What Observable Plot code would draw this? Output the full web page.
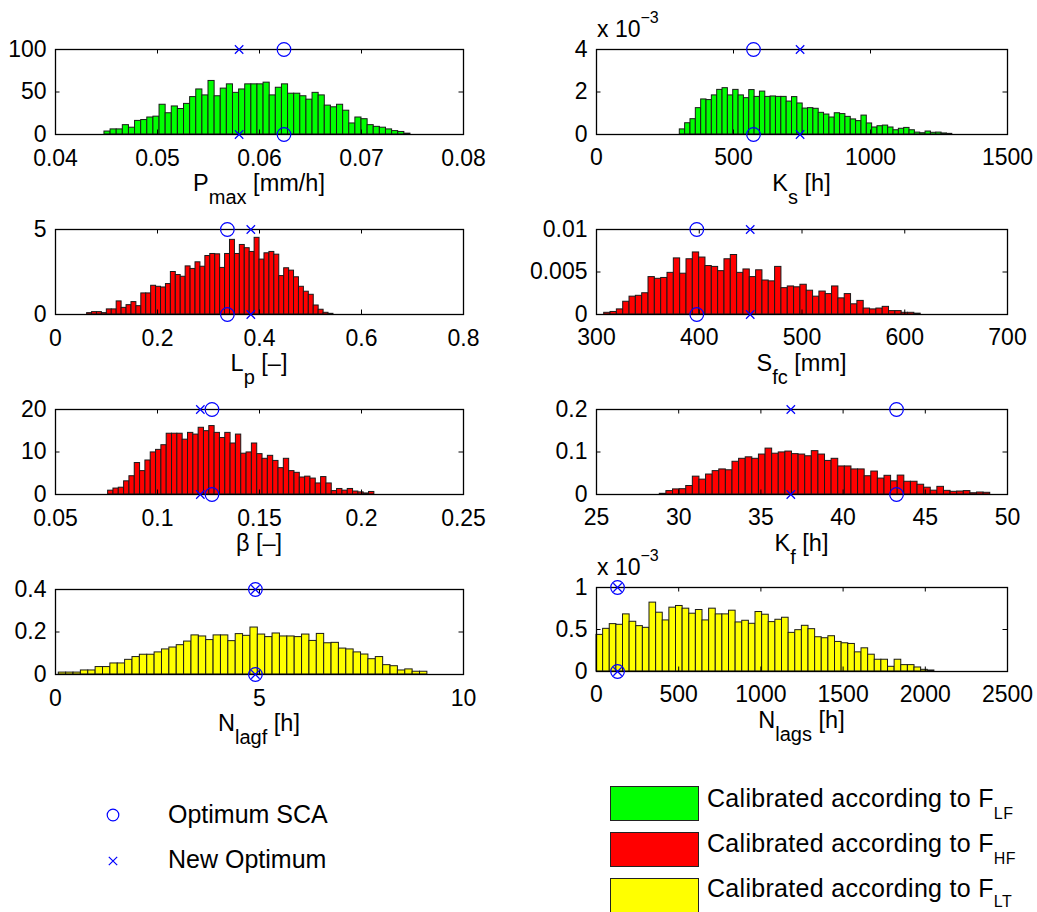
<!DOCTYPE html>
<html>
<head>
<meta charset="utf-8">
<script src="https://cdn.jsdelivr.net/npm/d3@7"></script>
<script src="https://cdn.jsdelivr.net/npm/@observablehq/plot@0.6"></script>
<style>
  html, body { margin: 0; padding: 0; background: #fff; }
  body { font-family: "Liberation Sans", Arial, Helvetica, sans-serif; color: #000; }
  #fig { position: relative; width: 1037px; height: 912px; overflow: hidden; background: #fff; }
  .lab { position: absolute; font-size: 23.5px; line-height: 24px; white-space: nowrap; transform: translateX(-50%); }
  .lab sub { font-size: 20px; vertical-align: -13px; line-height: 0; }
  .exp { position: absolute; font-size: 23px; line-height: 22px; white-space: nowrap; }
  .exp sup { font-size: 16px; vertical-align: 14px; line-height: 0; }
  .leg { position: absolute; font-size: 25px; line-height: 25px; white-space: nowrap; }
  .leg.s { letter-spacing: 0.3px; }
  .leg sub { font-size: 16px; vertical-align: -12px; line-height: 0; letter-spacing: 0.5px; }
  .leg sub.last { vertical-align: -10px; }
  .sw { position: absolute; width: 89px; height: 35px; border: 1px solid #222; box-sizing: border-box; }
</style>
</head>
<body>
<div id="fig"></div>
<script>
// ---------------- DATA ----------------
const seriesColors = ["#00ff00", "#ff0000", "#ffff00"];
const seriesLabels = ["Calibrated according to F", "Calibrated according to F", "Calibrated according to F"];
const seriesSubs = ["LF", "HF", "LT"];
const markerLabels = ["Optimum SCA", "New Optimum"];

// P_max [mm/h]
const pmaxStart = 0.0448, pmaxWidth = 0.0006;
const pmaxHeights = [3.5, 6, 6, 11, 8, 16, 17, 20, 21, 35, 25, 33, 30, 36, 44, 53, 46, 63, 45, 54, 59, 49, 53, 59, 59, 59, 61, 46, 55, 59, 48, 48, 45, 41, 49, 46, 34, 32, 35, 28, 13, 20, 18, 11, 9, 8, 6, 4, 3, 1];
const pmaxXTicks = [0.04, 0.05, 0.06, 0.07, 0.08];
const pmaxYTicks = [0, 50, 100];
const pmaxSCA = 0.0624, pmaxNew = 0.0580;

// K_s [h]  (heights in units of 1e-3)
const ksStart = 304, ksWidth = 19.5;
const ksHeights = [0.24, 0.53, 0.72, 1.24, 1.65, 1.62, 1.84, 2.10, 2.18, 1.84, 2.10, 1.84, 1.71, 2.09, 1.77, 2.02, 1.77, 1.79, 1.77, 1.77, 1.55, 1.76, 1.46, 1.22, 1.24, 1.21, 1.02, 0.94, 0.80, 1.00, 0.96, 0.83, 0.71, 0.63, 0.89, 0.52, 0.33, 0.39, 0.42, 0.33, 0.20, 0.27, 0.31, 0.20, 0.09, 0.06, 0.14, 0.08, 0.09, 0.05, 0.03];
const ksXTicks = [0, 500, 1000, 1500];
const ksYTicks = [0, 2, 4];
const ksSCA = 573, ksNew = 743;

// L_p [-]
const lpStart = 0.062, lpWidth = 0.00966;
const lpHeights = [0.08, 0.14, 0.14, 0.08, 0.30, 0.30, 0.77, 0.39, 0.55, 0.73, 0.49, 1.24, 1.24, 1.69, 1.63, 1.59, 1.79, 2.50, 2.32, 2.22, 2.83, 2.68, 3.07, 2.81, 3.44, 3.56, 3.54, 2.74, 3.56, 4.39, 3.56, 4.09, 3.90, 3.68, 4.51, 3.23, 3.60, 3.68, 3.52, 2.26, 2.72, 2.58, 2.19, 1.63, 1.34, 1.16, 0.53, 0.28, 0.10, 0.04];
const lpXTicks = [0, 0.2, 0.4, 0.6, 0.8];
const lpYTicks = [0, 5];
const lpSCA = 0.337, lpNew = 0.383;

// S_fc [mm]
const sfcStart = 307.5, sfcWidth = 6.16;
const sfcHeights = [0.0002, 0.0003, 0.0006, 0.0015, 0.0021, 0.0022, 0.0025, 0.0044, 0.0042, 0.0043, 0.0049, 0.0066, 0.0048, 0.0065, 0.0073, 0.0067, 0.0057, 0.0056, 0.0051, 0.0065, 0.0070, 0.0049, 0.0053, 0.0044, 0.0052, 0.0040, 0.0039, 0.0056, 0.0031, 0.0033, 0.0032, 0.0035, 0.0028, 0.0021, 0.0027, 0.0024, 0.0033, 0.0019, 0.0024, 0.0012, 0.0016, 0.0007, 0.0006, 0.0007, 0.0009, 0.0004, 0.0004, 0.0002, 0.0002, 0.0001];
const sfcXTicks = [300, 400, 500, 600, 700];
const sfcYTicks = [0, 0.005, 0.01];
const sfcSCA = 397.6, sfcNew = 449.6;

// beta [-]
const betaStart = 0.0758, betaWidth = 0.00261;
const betaHeights = [0.9, 1.4, 1.6, 3.1, 4.3, 7.4, 5.5, 8.0, 9.9, 10.5, 11.6, 14.3, 14.3, 14.3, 12.9, 14.5, 14.1, 15.7, 14.9, 16.1, 14.5, 13.3, 14.5, 12.0, 14.1, 9.6, 9.9, 12.0, 9.5, 8.4, 9.1, 7.9, 6.2, 8.4, 5.5, 5.1, 4.0, 4.2, 3.75, 2.6, 4.1, 2.6, 0.8, 1.3, 0.9, 1.3, 0.7, 0.5, 0.25, 0.6];
const betaXTicks = [0.05, 0.1, 0.15, 0.2, 0.25];
const betaYTicks = [0, 10, 20];
const betaSCA = 0.1267, betaNew = 0.121;

// K_f [h]
const kfStart = 28.85, kfWidth = 0.402;
const kfHeights = [0.0016, 0.008, 0.012, 0.0125, 0.020, 0.042, 0.035, 0.047, 0.055, 0.059, 0.057, 0.077, 0.084, 0.0875, 0.084, 0.094, 0.108, 0.096, 0.099, 0.101, 0.095, 0.094, 0.090, 0.102, 0.094, 0.079, 0.084, 0.066, 0.066, 0.059, 0.059, 0.043, 0.054, 0.0375, 0.044, 0.031, 0.0445, 0.030, 0.030, 0.023, 0.016, 0.009, 0.018, 0.0086, 0.0063, 0.007, 0.008, 0.003, 0.0047, 0.004];
const kfXTicks = [25, 30, 35, 40, 45, 50];
const kfYTicks = [0, 0.1, 0.2];
const kfSCA = 43.25, kfNew = 36.82;

// N_lagf [h]
const nlagfStart = 0.08, nlagfWidth = 0.1807;
const nlagfHeights = [0.009, 0.009, 0.009, 0.019, 0.019, 0.035, 0.035, 0.052, 0.052, 0.069, 0.082, 0.093, 0.093, 0.104, 0.118, 0.127, 0.138, 0.155, 0.184, 0.179, 0.162, 0.184, 0.184, 0.157, 0.190, 0.182, 0.221, 0.188, 0.176, 0.193, 0.179, 0.179, 0.176, 0.188, 0.158, 0.191, 0.147, 0.149, 0.122, 0.118, 0.104, 0.094, 0.072, 0.082, 0.044, 0.039, 0.019, 0.024, 0.013, 0.013];
const nlagfXTicks = [0, 5, 10];
const nlagfYTicks = [0, 0.2, 0.4];
const nlagfSCA = 4.9, nlagfNew = 4.9;

// N_lags [h]  (heights in units of 1e-3)
const nlagsStart = 0, nlagsWidth = 40.3;
const nlagsHeights = [0.436, 0.508, 0.564, 0.556, 0.680, 0.592, 0.540, 0.520, 0.820, 0.700, 0.608, 0.760, 0.780, 0.748, 0.688, 0.732, 0.608, 0.748, 0.680, 0.680, 0.724, 0.584, 0.604, 0.568, 0.708, 0.676, 0.588, 0.616, 0.640, 0.460, 0.492, 0.544, 0.504, 0.408, 0.396, 0.420, 0.352, 0.336, 0.328, 0.228, 0.276, 0.200, 0.140, 0.140, 0.056, 0.140, 0.076, 0.076, 0.048, 0.020, 0.012];
const nlagsXTicks = [0, 500, 1000, 1500, 2000, 2500];
const nlagsYTicks = [0, 0.5, 1];
const nlagsSCA = 128, nlagsNew = 128;

// ---------------- LAYOUT ----------------
const BLUE = "#0000ff";
const panels = [
  {box: [55, 49, 408, 85], xd: [0.04, 0.08], yd: [0, 100], xt: pmaxXTicks, yt: pmaxYTicks, start: pmaxStart, w: pmaxWidth, h: pmaxHeights, c: 0, sca: pmaxSCA, nw: pmaxNew, lab: ["P", "max", " [mm/h]"], exp: false},
  {box: [596, 49, 411, 85], xd: [0, 1500], yd: [0, 4], xt: ksXTicks, yt: ksYTicks, start: ksStart, w: ksWidth, h: ksHeights, c: 0, sca: ksSCA, nw: ksNew, lab: ["K", "s", " [h]"], exp: true},
  {box: [55, 229, 408, 85], xd: [0, 0.8], yd: [0, 5], xt: lpXTicks, yt: lpYTicks, start: lpStart, w: lpWidth, h: lpHeights, c: 1, sca: lpSCA, nw: lpNew, lab: ["L", "p", " [–]"], exp: false},
  {box: [596, 229, 411, 85], xd: [300, 700], yd: [0, 0.01], xt: sfcXTicks, yt: sfcYTicks, start: sfcStart, w: sfcWidth, h: sfcHeights, c: 1, sca: sfcSCA, nw: sfcNew, lab: ["S", "fc", " [mm]"], exp: false},
  {box: [55, 409, 408, 85], xd: [0.05, 0.25], yd: [0, 20], xt: betaXTicks, yt: betaYTicks, start: betaStart, w: betaWidth, h: betaHeights, c: 1, sca: betaSCA, nw: betaNew, lab: ["β", "", " [–]"], exp: false},
  {box: [596, 409, 411, 85], xd: [25, 50], yd: [0, 0.2], xt: kfXTicks, yt: kfYTicks, start: kfStart, w: kfWidth, h: kfHeights, c: 1, sca: kfSCA, nw: kfNew, lab: ["K", "f", " [h]"], exp: false},
  {box: [55, 589, 408, 85], xd: [0, 10], yd: [0, 0.4], xt: nlagfXTicks, yt: nlagfYTicks, start: nlagfStart, w: nlagfWidth, h: nlagfHeights, c: 2, sca: nlagfSCA, nw: nlagfNew, lab: ["N", "lagf", " [h]"], exp: false},
  {box: [596, 587, 411, 84], xd: [0, 2500], yd: [0, 1], xt: nlagsXTicks, yt: nlagsYTicks, start: nlagsStart, w: nlagsWidth, h: nlagsHeights, c: 2, sca: nlagsSCA, nw: nlagsNew, lab: ["N", "lags", " [h]"], exp: true}
];

const root = document.getElementById("fig");
function place(el, left, top) {
  el.style.position = "absolute";
  el.style.left = left + "px";
  el.style.top = top + "px";
  root.appendChild(el);
}

panels.forEach(p => {
  const [bl, bt, bw, bh] = p.box;
  const mL = Math.min(70, bl), mR = 25, mT = 25, mB = 45;
  const W = mL + bw + mR, H = mT + bh + mB;
  const bins = p.h.map((v, i) => ({x1: p.start + i * p.w, x2: p.start + (i + 1) * p.w, v}));
  const [x0, x1] = p.xd, [y0, y1] = p.yd;
  const tx = (x1 - x0) * 4.5 / bw, ty = (y1 - y0) * 4.5 / bh;
  const circ = [{x: p.sca, y: y1}, {x: p.sca, y: y0}];
  const tim = [{x: p.nw, y: y1}, {x: p.nw, y: y0}];
  const svg = Plot.plot({
    width: W, height: H,
    marginLeft: mL, marginRight: mR, marginTop: mT, marginBottom: mB,
    x: {domain: p.xd},
    y: {domain: p.yd},
    style: {fontFamily: '"Liberation Sans", Arial, Helvetica, sans-serif', fontSize: "23px", color: "#000", background: "transparent", overflow: "visible"},
    marks: [
      Plot.rect(bins, {x1: "x1", x2: "x2", y1: 0, y2: "v", fill: seriesColors[p.c], stroke: "#1a1a1a", strokeWidth: 1}),
      Plot.ruleX(p.xt, {y1: y0, y2: y0 + ty, stroke: "#000", strokeWidth: 1}),
      Plot.ruleX(p.xt, {y1: y1 - ty, y2: y1, stroke: "#000", strokeWidth: 1}),
      Plot.ruleY(p.yt, {x1: x0, x2: x0 + tx, stroke: "#000", strokeWidth: 1}),
      Plot.ruleY(p.yt, {x1: x1 - tx, x2: x1, stroke: "#000", strokeWidth: 1}),
      Plot.frame({stroke: "#000", strokeWidth: 1.3}),
      Plot.axisX(p.xt, {anchor: "bottom", tickSize: 0, tickPadding: bl < 100 ? 15 : 14, tickFormat: d => String(d), label: null}),
      Plot.axisY(p.yt, {anchor: "left", tickSize: 0, tickPadding: 9, tickFormat: d => String(d), label: null}),
      Plot.dot(circ, {x: "x", y: "y", symbol: "circle", r: 6.8, stroke: BLUE, fill: "none", strokeWidth: 1.2}),
      Plot.dot(tim, {x: "x", y: "y", symbol: "times", r: 3.9, stroke: BLUE, fill: "none", strokeWidth: 1.2})
    ]
  });
  const wrap = document.createElement("div");
  wrap.style.width = W + "px";
  wrap.appendChild(svg);
  place(wrap, bl - mL, bt - mT);

  // axis label (with subscript)
  const lab = document.createElement("div");
  lab.className = "lab";
  lab.innerHTML = p.lab[0] + (p.lab[1] ? "<sub>" + p.lab[1] + "</sub>" : "") + p.lab[2];
  place(lab, bl + bw / 2, bt + bh + 57.5 - 20.2);

  if (p.exp) {
    const e = document.createElement("div");
    e.className = "exp";
    e.innerHTML = "x 10<sup>−3</sup>";
    place(e, bl + 1, bt - 12 - 19);
  }
});

// ---------------- LEGENDS ----------------
const svgNS = "http://www.w3.org/2000/svg";
function markerIcon(kind) {
  const s = document.createElementNS(svgNS, "svg");
  s.setAttribute("width", 20); s.setAttribute("height", 20);
  s.setAttribute("viewBox", "-10 -10 20 20");
  if (kind === "circle") {
    const c = document.createElementNS(svgNS, "circle");
    c.setAttribute("r", 5.8); c.setAttribute("fill", "none");
    c.setAttribute("stroke", BLUE); c.setAttribute("stroke-width", 1.2);
    s.appendChild(c);
  } else {
    const pth = document.createElementNS(svgNS, "path");
    pth.setAttribute("d", "M-4.2,-4.2L4.2,4.2M-4.2,4.2L4.2,-4.2");
    pth.setAttribute("stroke", BLUE); pth.setAttribute("stroke-width", 1.2);
    s.appendChild(pth);
  }
  return s;
}
const markerKinds = ["circle", "times"];
markerLabels.forEach((t, i) => {
  const cy = 815 + i * 45.5;
  place(markerIcon(markerKinds[i]), 113 - 10, cy - 10);
  const d = document.createElement("div");
  d.className = "leg";
  d.textContent = t;
  place(d, 168, 823.3 + i * 45 - 21.2);
});

seriesColors.forEach((col, i) => {
  const top = 786 + i * 45.8;
  const sw = document.createElement("div");
  sw.className = "sw";
  sw.style.background = col;
  if (i === 2) sw.style.height = "45px";
  place(sw, 610, top);
  const d = document.createElement("div");
  d.className = "leg s";
  d.innerHTML = seriesLabels[i] + "<sub" + (i === seriesColors.length - 1 ? ' class="last"' : "") + ">" + seriesSubs[i] + "</sub>";
  place(d, 707, 806.7 + i * 45.7 - 21.2 - (i === seriesColors.length - 1 ? 1 : 0));
});
</script>
</body>
</html>
